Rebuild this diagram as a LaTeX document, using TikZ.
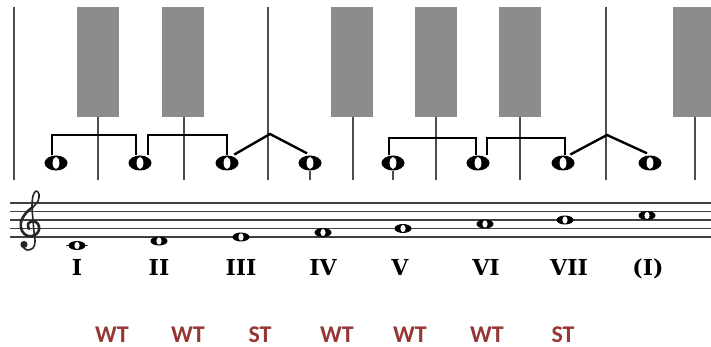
\documentclass[tikz,border=0pt]{standalone}
\usepackage{fontspec}
\setmainfont{DejaVu Serif}
\newfontfamily\labelfont{Carlito}
\usetikzlibrary{shapes.geometric,calc}
\definecolor{keygray}{RGB}{140,140,140}
\definecolor{wtred}{RGB}{149,55,53}
\begin{document}
\begin{tikzpicture}[x=1pt,y=-1pt,
  keyline/.style={draw=black!70, line width=1.3pt},
  blackkey/.style={fill=keygray, draw=none},
  bracket/.style={draw=black, line width=2.4pt},
  staffline/.style={draw=black!75, line width=1.4pt},
  clefstroke/.style={draw=black!85, line cap=round, line join=round},
  bigwhole/.style={ellipse, fill=black, minimum width=23pt, minimum height=15pt, inner sep=0pt,
    path picture={\fill[white, shift={(path picture bounding box.center)}, rotate=25] (0,0) ellipse [x radius=3.4pt, y radius=6pt];}},
  smallwhole/.style={ellipse, fill=black, minimum width=17pt, minimum height=9pt, inner sep=0pt,
    path picture={\fill[white, shift={(path picture bounding box.center)}, rotate=30] (0,0) ellipse [x radius=2.6pt, y radius=3.6pt];}},
  numeral/.style={font=\bfseries\fontsize{22}{22}\selectfont, anchor=base},
  steplabel/.style={font=\labelfont\bfseries\fontsize{24}{24}\selectfont, text=wtred, anchor=base}
]
\useasboundingbox (0,0) rectangle (711,347);
% black keys
\foreach \x in {77,162,331,415,499,673}{
  \fill[blackkey] (\x,7) rectangle ++(42,110);
}
% key lines
\foreach \x in {14,268,606}{ \draw[keyline] (\x,7) -- (\x,180); }
\foreach \x in {98,184,353,436,520,695}{ \draw[keyline] (\x,117) -- (\x,180); }
% keyboard notes
\node[bigwhole] (k1) at (56,163) {};
\node[bigwhole] (k2) at (140,163) {};
\node[bigwhole] (k3) at (227,163) {};
\node[bigwhole] (k4) at (310,163) {};
\node[bigwhole] (k5) at (393,163) {};
\node[bigwhole] (k6) at (478,163) {};
\node[bigwhole] (k7) at (563,163) {};
\node[bigwhole] (k8) at (650,163) {};
% small stems below notes 4 and 5
\draw[keyline] (k4.south) -- (310,180);
\draw[keyline] (k5.south) -- (393,180);
% brackets
\draw[bracket] ($(k1.north)+(-4,0)$) |- (100,135) -| ($(k2.north)+(-4,0)$);
\draw[bracket] ($(k2.north)+(8,0)$) |- (190,135) -| ($(k3.north)+(0,0)$);
\draw[bracket] ($(k5.north)+(-4,0)$) |- (430,138) -| ($(k6.north)+(-2,0)$);
\draw[bracket] ($(k6.north)+(9,0)$) |- (520,138) -| ($(k7.north)+(2,0)$);
\coordinate (p1) at (270,134);
\coordinate (p2) at (607,135);
\draw[bracket] ($(k3.north east)+(-1,-3)$) -- (p1) -- ($(k4.north)+(-3,-2)$);
\draw[bracket] ($(k7.north east)+(-1,-3)$) -- (p2) -- ($(k8.north)+(-3,-2)$);
% staff
\foreach \y in {203,211.5,220,228.5,237}{ \draw[staffline] (10,\y) -- (711,\y); }
% treble clef (drawn)
\fill[black!85] (24,244.5) circle (3.6);
\draw[clefstroke, line width=1.6pt] plot[smooth, tension=0.6] coordinates {
  (22,246) (27,250) (33,248) (35,242) (34,232) (33,220) (32,207) (33,196) (36,191) (39,194) (38,201) (33,207)};
\draw[clefstroke, line width=2.6pt] plot[smooth, tension=0.6] coordinates {
  (33,207) (26,213) (21,222) (22,231) (28,236) (35,235) (39,230) (38,224) (33,221) (28,224) (29,229)};
% staff notes
\draw[staffline] (66,245.5) -- (88,245.5);
\node[smallwhole] (n1) at (77,245.5) {};
\node[smallwhole] (n2) at (159,241) {};
\node[smallwhole] (n3) at (241,237) {};
\node[smallwhole] (n4) at (323,232.5) {};
\node[smallwhole] (n5) at (403,228.5) {};
\node[smallwhole] (n6) at (485,224) {};
\node[smallwhole] (n7) at (565,220) {};
\node[smallwhole] (n8) at (647,215.5) {};
% numerals
\node[numeral] (r1) at (77,275) {I};
\node[numeral] (r2) at (159,275) {II};
\node[numeral] (r3) at (241,275) {III};
\node[numeral] (r4) at (323,275) {IV};
\node[numeral] (r5) at (400,275) {V};
\node[numeral] (r6) at (486,275) {VI};
\node[numeral] (r7) at (569,275) {VII};
\node[numeral] (r8) at (648,275) {(I)};
% step labels
\node[steplabel] (s1) at (112,342) {WT};
\node[steplabel] (s2) at (188,342) {WT};
\node[steplabel] (s3) at (260,342) {ST};
\node[steplabel] (s4) at (337,342) {WT};
\node[steplabel] (s5) at (410,342) {WT};
\node[steplabel] (s6) at (487,342) {WT};
\node[steplabel] (s7) at (563,342) {ST};
\end{tikzpicture}
\end{document}
